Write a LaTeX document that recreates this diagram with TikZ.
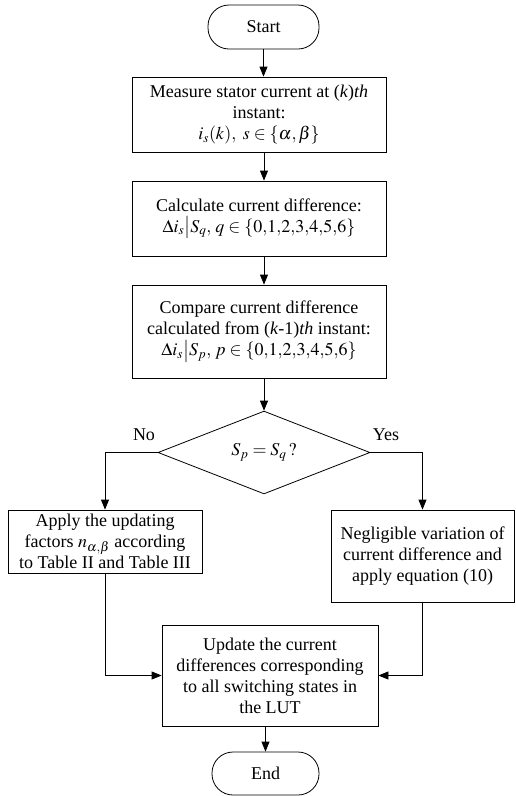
\documentclass[tikz,border=0pt]{standalone}
\usepackage{mathptmx}
\usepackage[no-math]{fontspec}
\setmainfont{Liberation Serif}
\usetikzlibrary{shapes.geometric,arrows.meta}

\tikzset{
  box/.style={draw, line width=0.8pt, align=center, inner sep=2pt},
  term/.style={draw, line width=0.8pt, rounded corners=21pt},
  flow/.style={-{Triangle[length=10pt,width=8pt]}, line width=0.8pt},
}

\begin{document}
\begin{tikzpicture}[x=1pt,y=-1pt,font=\fontsize{18}{21}\selectfont]
  \useasboundingbox (0,0) rectangle (515,796);
  % \draw[step=10,gray,very thin] (0,0) grid (515,796);
  \coordinate (axis) at (264,0);
  \node[term, minimum width=111pt, minimum height=44pt] (start) at (263.5,27) {Start};
  \node[box, minimum width=254pt, minimum height=75pt] (meas) at (259,114.5)
    {Measure stator current at (\textit{k})\textit{th}\\ instant:\\ $i_s(k),\ s\in\{\alpha,\beta\}$};
  \node[box, minimum width=254pt, minimum height=75pt] (calc) at (259,218.5)
    {Calculate current difference:\\ $\Delta i_s\big|S_q,\, q\in\{0{,}1{,}2{,}3{,}4{,}5{,}6\}$};
  \node[box, minimum width=254pt, minimum height=93pt] (comp) at (259,331.5)
    {Compare current difference\\ calculated from (\textit{k}-1)\textit{th} instant:\\ $\Delta i_s\big|S_p,\, p\in\{0{,}1{,}2{,}3{,}4{,}5{,}6\}$};
  \node[draw, diamond, line width=0.8pt, minimum width=212pt, minimum height=81pt, inner sep=0pt] (cmp) at (264,452.5)
    {$S_p = S_q\,?$};
  \node (no) at (144,435) {No};
  \node (yes) at (386,435) {Yes};
  \node[box, minimum width=194pt, minimum height=63pt] (upd) at (105,541.5)
    {Apply the updating\\ factors $n_{\alpha,\beta}$ according\\ to Table II and Table III};
  \node[box, minimum width=183pt, minimum height=92pt] (negl) at (422.5,556)
    {Negligible variation of\\ current difference and\\ apply equation (10)};
  \node[box, minimum width=216pt, minimum height=101pt] (lut) at (270,675.5)
    {Update the current\\ differences corresponding\\ to all switching states in\\ the LUT};
  \node[term, minimum width=107pt, minimum height=43pt] (end) at (265.5,773.5) {End};

  \draw[flow] (start.south) -- (start.south |- meas.north);
  \draw[flow] (meas.south -| axis) -- (calc.north -| axis);
  \draw[flow] (calc.south -| axis) -- (comp.north -| axis);
  \draw[flow] (comp.south -| axis) -- (cmp.north);
  \draw[flow] (cmp.west) -| (upd.north);
  \draw[flow] (cmp.east) -| (negl.north);
  \draw[flow] (upd.south) |- (lut.west);
  \draw[flow] (negl.south) |- (lut.east);
  \draw[flow] (lut.south -| end) -- (end.north);
\end{tikzpicture}
\end{document}
